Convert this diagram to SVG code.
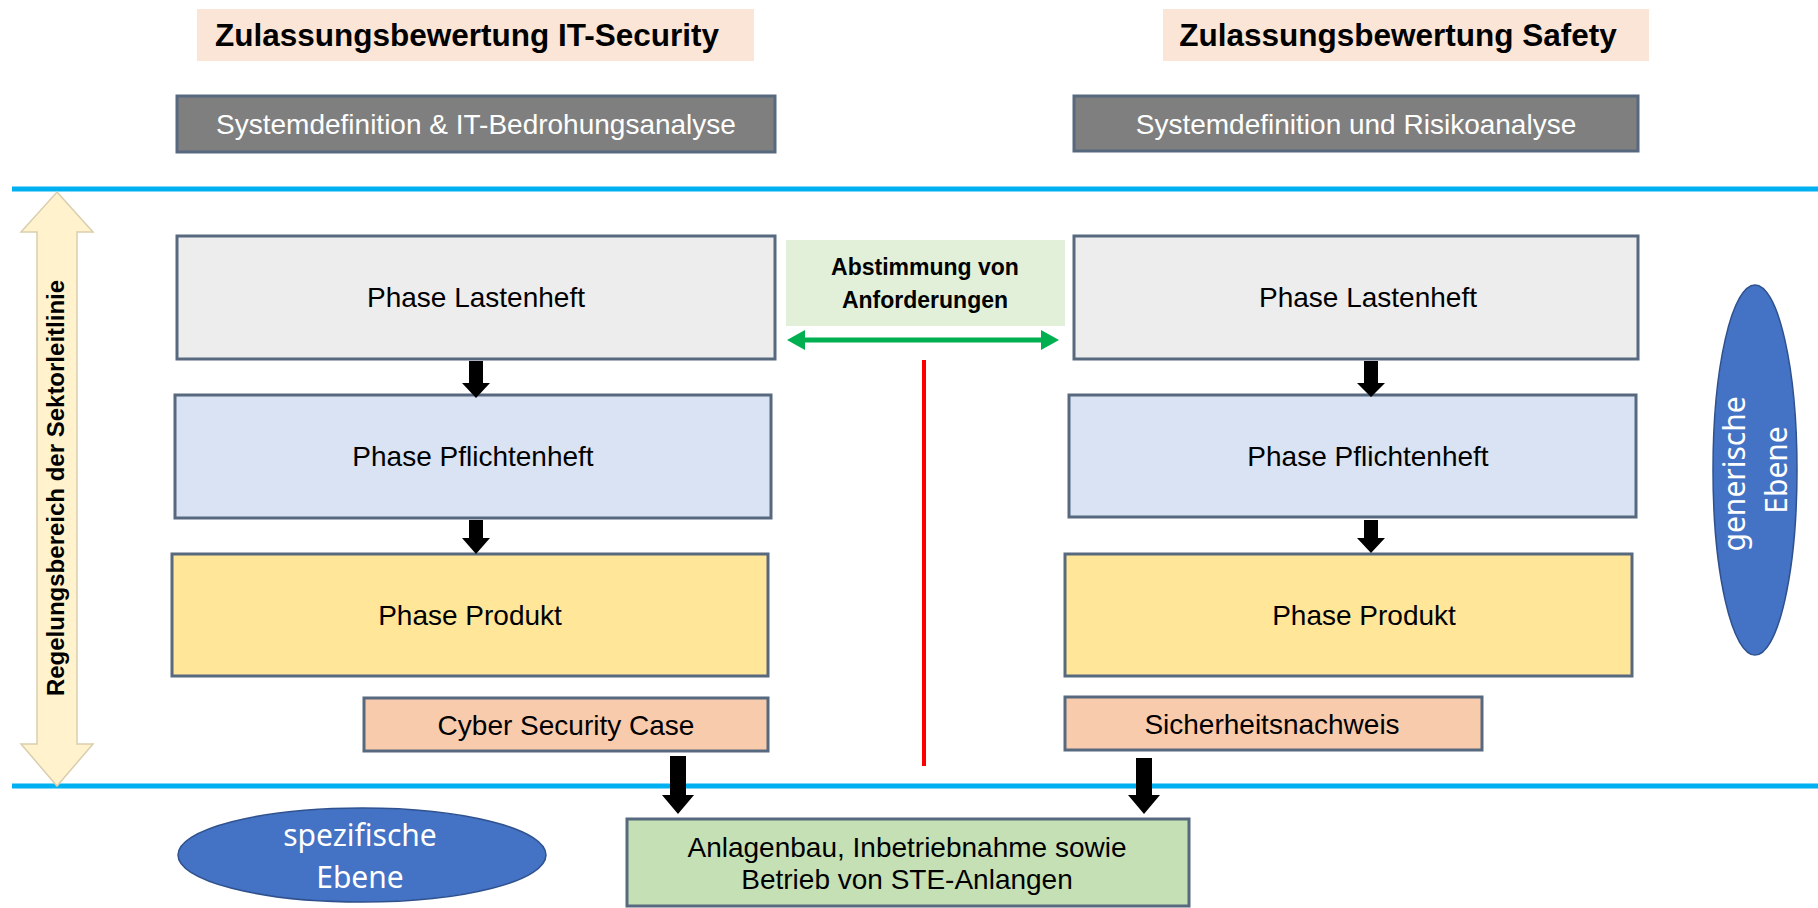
<svg xmlns="http://www.w3.org/2000/svg" width="1818" height="908" viewBox="0 0 1818 908">
<style>
.box{stroke:#56697f;stroke-width:3}
.t{font-family:"Liberation Sans",Arial,sans-serif;font-size:28px;fill:#000;text-anchor:middle}
.tw{font-family:"Liberation Sans",Arial,sans-serif;font-size:28px;fill:#fff;text-anchor:middle}
.tb{font-family:"Liberation Sans",Arial,sans-serif;font-weight:bold;fill:#000;text-anchor:middle}
.te{font-family:"Noto Sans","Open Sans",sans-serif;font-size:30px;fill:#fff;text-anchor:middle}
.blk{fill:#000}
.sep{stroke:#00b0f0;stroke-width:5}
</style>
<rect width="1818" height="908" fill="#fff"/>

<g id="separators">
<line class="sep" x1="12" y1="189" x2="1818" y2="189"/>
<line class="sep" x1="12" y1="786" x2="1818" y2="786"/>
</g>

<g id="title-security">
<rect x="197" y="9" width="557" height="52" fill="#fbe5d6"/>
<text class="tb" x="467" y="46" font-size="31.5">Zulassungsbewertung IT-Security</text>
</g>
<g id="title-safety">
<rect x="1163" y="9" width="486" height="52" fill="#fbe5d6"/>
<text class="tb" x="1398" y="46" font-size="31.5">Zulassungsbewertung Safety</text>
</g>

<g id="sysdef-security">
<rect class="box" x="177" y="96" width="598" height="56" fill="#7f7f7f"/>
<text class="tw" x="476" y="134">Systemdefinition &amp; IT-Bedrohungsanalyse</text>
</g>
<g id="sysdef-safety">
<rect class="box" x="1074" y="96" width="564" height="55" fill="#7f7f7f"/>
<text class="tw" x="1356" y="134">Systemdefinition und Risikoanalyse</text>
</g>

<g id="scope-arrow">
<polygon points="57,192 93,232 77,232 77,744 93,744 57,786 21,744 37,744 37,232 21,232" fill="#fff2cc" stroke="#d9cfae" stroke-width="1.5"/>
<text class="tb" font-size="24" transform="translate(56,488) rotate(-90)" x="0" y="8">Regelungsbereich der Sektorleitlinie</text>
</g>

<g id="lastenheft-security">
<rect class="box" x="177" y="236" width="598" height="123" fill="#ededed"/>
<text class="t" x="476" y="307">Phase Lastenheft</text>
</g>
<g id="pflichtenheft-security">
<rect class="box" x="175" y="395" width="596" height="123" fill="#dae3f3"/>
<text class="t" x="473" y="466">Phase Pflichtenheft</text>
</g>
<g id="produkt-security">
<rect class="box" x="172" y="554" width="596" height="122" fill="#ffe699"/>
<text class="t" x="470" y="625">Phase Produkt</text>
</g>
<g id="cyber-security-case">
<rect class="box" x="364" y="698" width="404" height="53" fill="#f8cbad"/>
<text class="t" x="566" y="735">Cyber Security Case</text>
</g>

<g id="lastenheft-safety">
<rect class="box" x="1074" y="236" width="564" height="123" fill="#ededed"/>
<text class="t" x="1368" y="307">Phase Lastenheft</text>
</g>
<g id="pflichtenheft-safety">
<rect class="box" x="1069" y="395" width="567" height="122" fill="#dae3f3"/>
<text class="t" x="1368" y="466">Phase Pflichtenheft</text>
</g>
<g id="produkt-safety">
<rect class="box" x="1065" y="554" width="567" height="122" fill="#ffe699"/>
<text class="t" x="1364" y="625">Phase Produkt</text>
</g>
<g id="sicherheitsnachweis">
<rect class="box" x="1065" y="697" width="417" height="53" fill="#f8cbad"/>
<text class="t" x="1272" y="734">Sicherheitsnachweis</text>
</g>

<g id="abstimmung">
<rect x="786" y="240" width="279" height="86" fill="#e2f0d9"/>
<text class="tb" font-size="23" x="925" y="275">Abstimmung von</text>
<text class="tb" font-size="23" x="925" y="308">Anforderungen</text>
</g>

<g id="anlagenbau">
<rect class="box" x="627" y="819" width="562" height="87" fill="#c5e0b4"/>
<text class="t" x="907" y="857">Anlagenbau, Inbetriebnahme sowie</text>
<text class="t" x="907" y="889">Betrieb von STE-Anlangen</text>
</g>

<g id="generische-ebene">
<ellipse cx="1755" cy="470" rx="42" ry="185" fill="#4472c4" stroke="#2f528f" stroke-width="1.5"/>
<text class="te" transform="translate(1755,470) rotate(-90)">
<tspan x="0" y="-10">generische</tspan>
<tspan x="0" y="32">Ebene</tspan>
</text>
</g>
<g id="spezifische-ebene">
<ellipse cx="362" cy="855" rx="184" ry="47" fill="#4472c4" stroke="#2f528f" stroke-width="1.5"/>
<text class="te" x="360" y="846">spezifische</text>
<text class="te" x="360" y="888">Ebene</text>
</g>

<g id="connectors">
<polygon class="blk" points="469,361 483,361 483,383 490,383 476,398 462,383 469,383"/>
<polygon class="blk" points="469,520 483,520 483,538 490,538 476,554 462,538 469,538"/>
<polygon class="blk" points="1364,361 1378,361 1378,383 1385,383 1371,397 1357,383 1364,383"/>
<polygon class="blk" points="1364,520 1378,520 1378,538 1385,538 1371,553 1357,538 1364,538"/>
<polygon class="blk" points="670,756 686,756 686,795 694,795 678,814 662,795 670,795"/>
<polygon class="blk" points="1136,758 1152,758 1152,795 1160,795 1144,814 1128,795 1136,795"/>
<polygon fill="#00b050" points="787,340 805,330 805,337.5 1041,337.5 1041,330 1059,340 1041,350 1041,342.5 805,342.5 805,350"/>
<line x1="924" y1="360" x2="924" y2="766" stroke="#ff0000" stroke-width="4"/>
</g>
</svg>
